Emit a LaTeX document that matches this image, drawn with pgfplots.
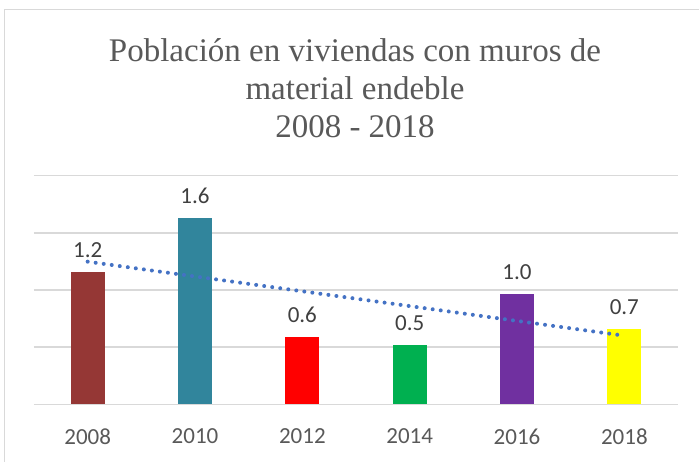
\documentclass[border=0pt]{standalone}
\usepackage{pgfplots}
\pgfplotsset{compat=1.18}
\usepackage{fontspec}
\setmainfont{Carlito}
\newfontfamily\titlefont{Liberation Serif}
\definecolor{gridgray}{HTML}{D9D9D9}
\definecolor{titlegray}{HTML}{595959}
\definecolor{labelgray}{HTML}{404040}
\definecolor{c2008}{HTML}{953735}
\definecolor{c2010}{HTML}{31859C}
\definecolor{c2012}{HTML}{FF0000}
\definecolor{c2014}{HTML}{00B050}
\definecolor{c2016}{HTML}{7030A0}
\definecolor{c2018}{HTML}{FFFF00}
\definecolor{trend}{HTML}{4472C4}
\begin{document}
\begin{tikzpicture}
\useasboundingbox (0,0) rectangle (699pt,462pt);
\draw[gridgray, line width=1.5pt] (4.5pt,0) -- (4.5pt,452.5pt) -- (699pt,452.5pt);
\node[anchor=base, text=titlegray, font=\titlefont\fontsize{33}{39}\selectfont] at (355pt,400pt) {Población en viviendas con muros de};
\node[anchor=base, text=titlegray, font=\titlefont\fontsize{33}{39}\selectfont] at (355pt,362pt) {material endeble};
\node[anchor=base, text=titlegray, font=\titlefont\fontsize{33}{39}\selectfont] at (355pt,324pt) {2008 - 2018};
\begin{axis}[
  at={(34pt,57.7pt)}, anchor=south west,
  scale only axis, width=644pt, height=228.6pt,
  xmin=-0.5, xmax=5.5, ymin=0, ymax=2,
  ytick={0,0.5,1,1.5,2}, yticklabels={},
  ymajorgrids, grid style={draw=gridgray, line width=1.5pt},
  axis line style={draw=none}, major tick length=0pt,
  xtick={0,1,2,3,4,5},
  xticklabels={2008,2010,2012,2014,2016,2018},
  xticklabel style={font=\fontsize{23}{27}\selectfont, text=titlegray, yshift=-21pt},
  ybar, bar width=34pt, bar shift=0pt,
  clip=false,
  barst/.style={draw=none, fill=#1,
    nodes near coords={\pgfmathprintnumber[fixed,fixed zerofill,precision=1,assume math mode=true]{\pgfplotspointmeta}},
    nodes near coords style={font=\fontsize{23}{27}\selectfont, text=labelgray, anchor=south, yshift=10.5pt}},
]
\addplot[barst=c2008] coordinates {(0,1.16)};
\addplot[barst=c2010] coordinates {(1,1.63)};
\addplot[barst=c2012] coordinates {(2,0.59)};
\addplot[barst=c2014] coordinates {(3,0.52)};
\addplot[barst=c2016] coordinates {(4,0.965)};
\addplot[barst=c2018] coordinates {(5,0.66)};
\addplot[sharp plot, no marks, draw=trend, line width=4pt, line cap=round, dash pattern=on 0pt off 8.1pt] coordinates {(0,1.248) (5,0.60)};
\end{axis}
\end{tikzpicture}
\end{document}
